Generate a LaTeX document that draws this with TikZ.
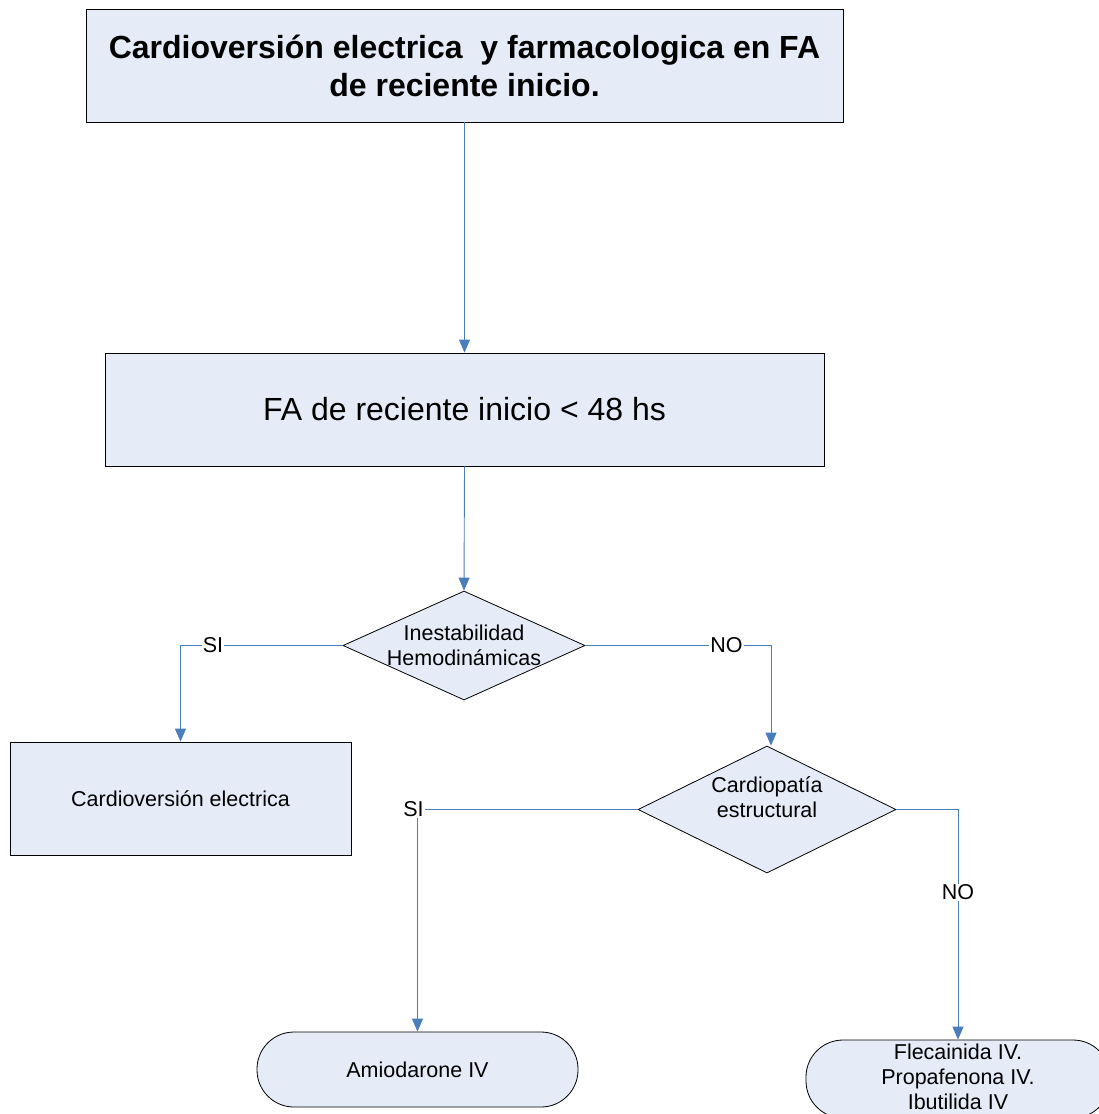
\documentclass[tikz,border=0pt]{standalone}
\usepackage{fontspec}
\setmainfont{Liberation Sans}
\usetikzlibrary{arrows.meta,shapes.geometric,positioning}
\definecolor{boxfill}{HTML}{E6ECF7}
\definecolor{linkblue}{HTML}{4A7EBB}
\tikzset{
  procbox/.style={draw=black, line width=0.8pt, fill=boxfill, inner sep=0pt, align=center},
  dia/.style={draw=black, line width=0.8pt, fill=boxfill, diamond, inner sep=0pt},
  term/.style={draw=black, line width=0.8pt, fill=boxfill, inner sep=0pt, align=center, rounded corners=37pt},
  link/.style={draw=linkblue, line width=0.9pt},
  arr/.style={link, -{Triangle[width=11pt,length=13pt]}},
  lbl/.style={fill=white, inner sep=1pt, font=\fontsize{21.5}{24}\selectfont},
  txt/.style={align=center, font=\fontsize{21.5}{25}\selectfont},
}
\begin{document}
\begin{tikzpicture}[x=1pt,y=-1pt]
\useasboundingbox (0,0) rectangle (1099,1114);
\clip (0,0) rectangle (1099,1114);
% boxes
\node[procbox, minimum width=757pt, minimum height=113pt, font=\bfseries\fontsize{32}{38}\selectfont] (title) at (464.5,65.5) {Cardioversión electrica~~y farmacologica en FA\\de reciente inicio.};
\node[procbox, minimum width=719pt, minimum height=113pt, font=\fontsize{32}{36}\selectfont] (fa) at (464.5,409.5) {FA de reciente inicio < 48 hs};
\node[dia, minimum width=242pt, minimum height=109pt] (d1) at (464,645.5) {};
\node[txt] at (464,645) {Inestabilidad\\Hemodinámicas};
\node[procbox, minimum width=341pt, minimum height=113pt, font=\fontsize{21.5}{24}\selectfont] (ce) at (180.5,798.5) {Cardioversión electrica};
\node[dia, minimum width=258pt, minimum height=127pt] (d2) at (767,809.5) {};
\node[txt] at (767,797) {Cardiopatía\\estructural};
\node[term, minimum width=321pt, minimum height=75pt, font=\fontsize{21.5}{24}\selectfont] (amio) at (417.5,1069.5) {Amiodarone IV};
\node[term, minimum width=304pt, minimum height=78pt] (fle) at (958,1079) {};
\node[txt] at (958,1077) {Flecainida IV.\\Propafenona IV.\\Ibutilida IV};
% connectors
\draw[arr] (title.south) -- (fa.north);
\draw[arr] (fa.south) -- (d1.north);
\draw[arr] (d1.west) -| node[lbl, pos=0.40] {SI} (ce.north);
\draw[arr] (d1.east) -| node[lbl, pos=0.38] {NO} (d2.north -| 771,0);
\draw[arr] (d2.west) -| node[lbl, pos=0.5, xshift=-4pt] {SI} (amio.north);
\draw[arr] (d2.east) -| node[lbl, pos=0.68] {NO} (fle.north);
\end{tikzpicture}
\end{document}
